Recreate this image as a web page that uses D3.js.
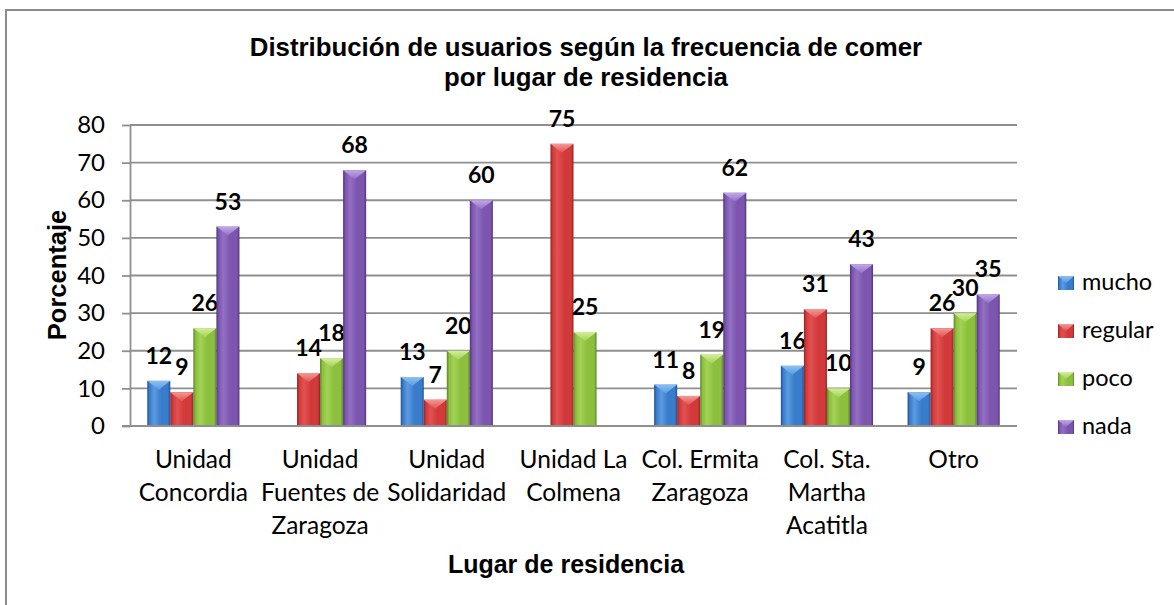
<!DOCTYPE html>
<html>
<head>
<meta charset="utf-8">
<script src="https://cdn.jsdelivr.net/npm/d3@7"></script>
<style>
  html, body { margin: 0; padding: 0; background: #fff; }
  svg { display: block; }
</style>
</head>
<body>
<svg id="chart" width="1174" height="605"></svg>
<script>
// Chart data
const categories = [
  ["Unidad", "Concordia"],
  ["Unidad", "Fuentes de", "Zaragoza"],
  ["Unidad", "Solidaridad"],
  ["Unidad La", "Colmena"],
  ["Col. Ermita", "Zaragoza"],
  ["Col. Sta.", "Martha", "Acatitla"],
  ["Otro"]
];
const seriesNames = ["mucho", "regular", "poco", "nada"];
const mucho   = [12, null, 13, null, 11, 16, 9];
const regular = [9, 14, 7, 75, 8, 31, 26];
const poco    = [26, 18, 20, 25, 19, 10, 30];
const nada    = [53, 68, 60, null, 62, 43, 35];
const yTicks  = [0, 10, 20, 30, 40, 50, 60, 70, 80];

const titleLines = ["Distribución de usuarios según la frecuencia de comer", "por lugar de residencia"];
const yTitle = "Porcentaje";
const xTitle = "Lugar de residencia";

const seriesValues = [mucho, regular, poco, nada];

// Bar colour palettes: edge, body, highlight, bevel cap
const palette = {
  mucho:   { edge: "#1f4f8f", body: "#3a7ccc", light: "#5b9be0", cap: "#8cc0f0" },
  regular: { edge: "#8f2422", body: "#d2393a", light: "#e25252", cap: "#f29a94" },
  poco:    { edge: "#5a8226", body: "#8cbf3e", light: "#a3d255", cap: "#d3ef9a" },
  nada:    { edge: "#4f3479", body: "#7c55ae", light: "#9370c4", cap: "#c2a8e8" }
};

const bodyFont = "Lato, 'Open Sans', sans-serif";
const titleFont = "'Liberation Sans', Arial, sans-serif";

const svg = d3.select("#chart");
const W = 1174, H = 605;

// Outer chart frame
svg.append("rect")
  .attr("x", 6).attr("y", 10)
  .attr("width", W + 20).attr("height", H + 20)
  .attr("fill", "#fff")
  .attr("stroke", "#8c8c8c").attr("stroke-width", 2);

const plot = { left: 130, right: 1017, top: 125, bottom: 426 };

const x0 = d3.scaleBand()
  .domain(d3.range(categories.length))
  .range([plot.left, plot.right])
  .paddingInner(1.5 / 5.5)
  .paddingOuter(0.75 / 5.5);

const x1 = d3.scaleBand()
  .domain(seriesNames)
  .range([0, x0.bandwidth()])
  .padding(0);

const y = d3.scaleLinear().domain([0, 80]).range([plot.bottom, plot.top]);

// Gradients
const defs = svg.append("defs");
seriesNames.forEach(name => {
  const p = palette[name];
  const g = defs.append("linearGradient")
    .attr("id", "grad-" + name)
    .attr("x1", "0").attr("x2", "1").attr("y1", "0").attr("y2", "0");
  [[0, p.edge], [0.1, p.body], [0.3, p.light], [0.6, p.body], [0.9, p.body], [1, p.edge]]
    .forEach(([o, c]) => g.append("stop").attr("offset", o).attr("stop-color", c));
  const cg = defs.append("linearGradient")
    .attr("id", "cap-" + name)
    .attr("x1", "0").attr("x2", "0").attr("y1", "0").attr("y2", "1");
  cg.append("stop").attr("offset", 0).attr("stop-color", p.cap);
  cg.append("stop").attr("offset", 1).attr("stop-color", p.light);
});

// Gridlines
svg.append("g")
  .selectAll("line")
  .data(yTicks.filter(t => t > 0))
  .join("line")
  .attr("x1", plot.left).attr("x2", plot.right)
  .attr("y1", d => y(d)).attr("y2", d => y(d))
  .attr("stroke", "#8f8f8f").attr("stroke-width", 1.8);

// Y axis
const yAxis = svg.append("g")
  .attr("transform", `translate(${plot.left},0)`)
  .call(d3.axisLeft(y).tickValues(yTicks).tickSize(8).tickPadding(17).tickSizeOuter(0));
yAxis.select(".domain").attr("stroke", "#8f8f8f").attr("stroke-width", 1.8);
yAxis.selectAll(".tick line").attr("stroke", "#8f8f8f").attr("stroke-width", 1.8);
yAxis.selectAll(".tick text")
  .attr("font-family", bodyFont)
  .attr("font-size", 24)
  .attr("fill", "#000");

// Bars
const barGroups = svg.append("g")
  .selectAll("g")
  .data(categories.map((c, i) => i))
  .join("g")
  .attr("transform", i => `translate(${x0(i)},0)`);

const bars = barGroups.selectAll("g.bar")
  .data(i => seriesNames.map((name, s) => ({ name, value: seriesValues[s][i] }))
    .filter(d => d.value !== null))
  .join("g")
  .attr("class", "bar");

bars.append("rect")
  .attr("x", d => x1(d.name))
  .attr("y", d => y(d.value))
  .attr("width", x1.bandwidth())
  .attr("height", d => y(0) - y(d.value))
  .attr("fill", d => `url(#grad-${d.name})`);

bars.append("path")
  .attr("d", d => {
    const xl = x1(d.name), xr = xl + x1.bandwidth(), yt = y(d.value);
    const depth = Math.min(9, (y(0) - yt) / 2);
    return `M${xl},${yt} L${xr},${yt} L${(xl + xr) / 2},${yt + depth} Z`;
  })
  .attr("fill", d => `url(#cap-${d.name})`);

// Baseline
svg.append("line")
  .attr("x1", plot.left - 8).attr("x2", plot.right)
  .attr("y1", y(0)).attr("y2", y(0))
  .attr("stroke", "#8f8f8f").attr("stroke-width", 1.8);

// Data labels
bars.append("text")
  .attr("x", d => x1(d.name) + x1.bandwidth() / 2)
  .attr("y", d => y(d.value) - 17)
  .attr("text-anchor", "middle")
  .attr("font-family", bodyFont)
  .attr("font-weight", "bold")
  .attr("font-size", 23)
  .attr("fill", "#000")
  .text(d => d.value);

// Category labels
const catLabels = svg.append("g")
  .selectAll("text")
  .data(categories)
  .join("text")
  .attr("text-anchor", "middle")
  .attr("font-family", bodyFont)
  .attr("font-size", 24.5)
  .attr("fill", "#000");
catLabels.each(function (lines, i) {
  const t = d3.select(this);
  lines.forEach((line, k) => {
    t.append("tspan")
      .attr("x", x0(i) + x0.bandwidth() / 2)
      .attr("y", 468 + k * 33)
      .text(line);
  });
});

// Title
svg.append("g")
  .selectAll("text")
  .data(titleLines)
  .join("text")
  .attr("x", 586)
  .attr("y", (d, i) => 56 + i * 30)
  .attr("text-anchor", "middle")
  .attr("font-family", titleFont)
  .attr("font-weight", "bold")
  .attr("font-size", 25.8)
  .attr("fill", "#000")
  .text(d => d);

// Axis titles
svg.append("text")
  .attr("transform", "translate(66,275) rotate(-90)")
  .attr("text-anchor", "middle")
  .attr("font-family", titleFont)
  .attr("font-weight", "bold")
  .attr("font-size", 25.5)
  .attr("fill", "#000")
  .text(yTitle);

svg.append("text")
  .attr("x", 566).attr("y", 573)
  .attr("text-anchor", "middle")
  .attr("font-family", titleFont)
  .attr("font-weight", "bold")
  .attr("font-size", 25)
  .attr("fill", "#000")
  .text(xTitle);

// Legend
const legend = svg.append("g")
  .selectAll("g")
  .data(seriesNames)
  .join("g")
  .attr("transform", (d, i) => `translate(1058,${283 + i * 48})`);
legend.append("rect")
  .attr("x", 0).attr("y", -7)
  .attr("width", 16).attr("height", 14)
  .attr("fill", d => `url(#grad-${d})`);
legend.append("path")
  .attr("d", "M0,-7 L16,-7 L8,0 Z")
  .attr("fill", d => `url(#cap-${d})`);
legend.append("text")
  .attr("x", 24).attr("y", 7)
  .attr("font-family", bodyFont)
  .attr("font-size", 23.5)
  .attr("fill", "#000")
  .text(d => d);
</script>
</body>
</html>
